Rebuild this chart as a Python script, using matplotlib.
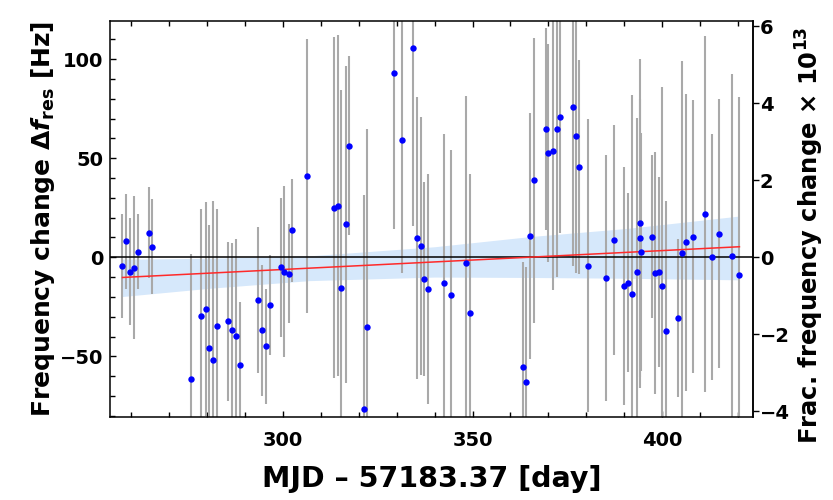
import matplotlib
matplotlib.use("Agg")
import matplotlib.pyplot as plt
from matplotlib.ticker import MultipleLocator

plt.rcParams["font.family"] = "DejaVu Sans"
plt.rcParams["font.weight"] = "bold"
plt.rcParams["axes.labelweight"] = "bold"
plt.rcParams["mathtext.fontset"] = "custom"
plt.rcParams["mathtext.rm"] = "DejaVu Sans:bold"
plt.rcParams["mathtext.bf"] = "DejaVu Sans:bold"
plt.rcParams["mathtext.it"] = "DejaVu Sans:bold:italic"

# residual frequency offsets (Hz) and their 1-sigma errors vs. MJD offset
days = [257.8, 258.6, 259.8, 260.8, 261.8, 264.8, 265.6, 275.8, 278.6, 279.7,
        280.7, 281.7, 282.6, 285.7, 286.6, 287.6, 288.8, 293.5, 294.5, 295.6,
        296.6, 299.6, 300.4, 301.7, 302.4, 306.4, 313.5, 314.6, 315.4, 316.6,
        317.5, 321.5, 322.3, 329.4, 331.4, 334.4, 335.3, 336.4, 337.3, 338.2,
        342.4, 344.3, 348.2, 349.4, 363.2, 364.1, 365.1, 366.2, 369.3, 370.0,
        371.2, 372.2, 373.1, 376.4, 377.2, 378.1, 380.3, 385.1, 387.2, 389.9,
        391.0, 392.1, 393.3, 394.2, 394.2, 394.3, 397.3, 398.0, 399.0, 400.0,
        401.0, 404.0, 405.1, 406.2, 408.0, 411.2, 413.1, 414.9, 418.3, 420.1]
dfreq = [-4.4, 8.0, -7.2, -5.2, 2.8, 12.4, 5.3, -61.3, -29.8, -26.0,
         -45.9, -51.6, -34.9, -32.4, -36.9, -39.9, -54.5, -21.5, -36.9, -44.9,
         -24.1, -5.0, -7.2, -8.4, 13.7, 41.0, 25.1, 25.9, -15.6, 16.6,
         56.3, -76.7, -35.4, 93.1, 59.3, 105.7, 9.8, 5.8, -10.9, -16.1,
         -12.8, -18.9, -2.7, -28.1, -55.5, -63.0, 10.7, 38.8, 64.5, 52.6,
         53.6, 64.8, 71.0, 75.7, 61.1, 45.5, -4.2, -10.3, 8.7, -14.3,
         -12.8, -18.3, -7.5, 17.1, 9.7, 2.5, 10.4, -8.0, -7.5, -14.3,
         -37.4, -30.7, 2.0, 7.5, 10.4, 21.8, 0.3, 11.9, 0.5, -9.2]
sigma = [26, 24, 27, 36, 19, 23, 24, 63, 54, 54,
         62, 80, 59, 40, 44, 49, 32, 37, 33, 29,
         25, 35, 43, 25, 26, 69, 86, 86, 100, 80,
         45, 108, 100, 79, 67, 90, 71, 65, 49, 58,
         75, 73, 84, 70, 53, 58, 62, 72, 51, 55,
         70, 75, 59, 80, 69, 54, 74, 62, 58, 60,
         45, 100, 78, 83, 70, 60, 41, 61, 48, 100,
         66, 40, 97, 75, 69, 90, 62, 68, 92, 90]

# linear drift fit and its confidence band
fit_days = [257.8, 420.3]
fit_hz = [-10.2, 5.3]
band_days = [257.8, 281.0, 307.0, 340.0, 365.0, 391.0, 420.3]
band_hi = [-1.0, -0.5, 0.7, 5.3, 10.4, 14.6, 20.8]
band_lo = [-19.8, -15.6, -11.8, -10.0, -10.2, -10.6, -11.4]

F0_UNIT = 19.44  # Hz per 1e-13 fractional change (f0 ~ 194.4 THz)

fig = plt.figure(figsize=(8.33, 5.0), dpi=100)
ax = fig.add_axes([0.132, 0.166, 0.7716, 0.792])

ax.fill_between(band_days, band_lo, band_hi, color="#d6e8fb", lw=0, zorder=1)
ax.errorbar(days, dfreq, yerr=sigma, fmt="none", ecolor="#a9a9a9",
            elinewidth=1.5, capsize=0, zorder=2)
ax.axhline(0, color="black", lw=1.1, zorder=3)
ax.plot(fit_days, fit_hz, color="#ff2a2a", lw=1.1, zorder=4)
ax.plot(days, dfreq, "o", color="#0000ff", ms=4.6, mec="none", zorder=5)

ax.set_xlim(254.5, 423.8)
ax.set_ylim(-80.6, 119.2)

ax.xaxis.set_major_locator(MultipleLocator(50))
ax.xaxis.set_minor_locator(MultipleLocator(10))
ax.yaxis.set_major_locator(MultipleLocator(50))
ax.yaxis.set_minor_locator(MultipleLocator(10))
ax.tick_params(which="both", direction="in", top=True, right=False,
               width=1.0, labelsize=14)
ax.tick_params(which="major", length=4.5)
ax.tick_params(which="minor", length=3.5)
ax.tick_params(axis="x", pad=10)
ax.tick_params(axis="y", pad=5)
for s in ax.spines.values():
    s.set_linewidth(1.1)

ax.set_yticks([-50, 0, 50, 100])
ax.set_yticklabels(["\u221250", "0", "50", "100"])

sec = ax.secondary_yaxis("right", functions=(lambda v: v / F0_UNIT,
                                             lambda v: v * F0_UNIT))
sec.set_yticks([-4, -2, 0, 2, 4, 6])
sec.set_yticklabels(["\u22124", "\u22122", "0", "2", "4", "6"])
sec.tick_params(direction="out", length=4, width=1.0, labelsize=14, pad=1)
sec.spines["right"].set_linewidth(1.1)

ax.set_xlabel("MJD \u2013 57183.37 [day]", fontsize=20.5, labelpad=11)
ax.set_ylabel(r"Frequency change $\Delta f_{\rm res}$ [Hz]", fontsize=18,
              labelpad=2)
sec.set_ylabel(r"Frac. frequency change $\times$ 10$^{13}$", fontsize=17.5,
               labelpad=3)
sec.yaxis.label.set_y(0.46)

fig.savefig("out.png", dpi=100)
